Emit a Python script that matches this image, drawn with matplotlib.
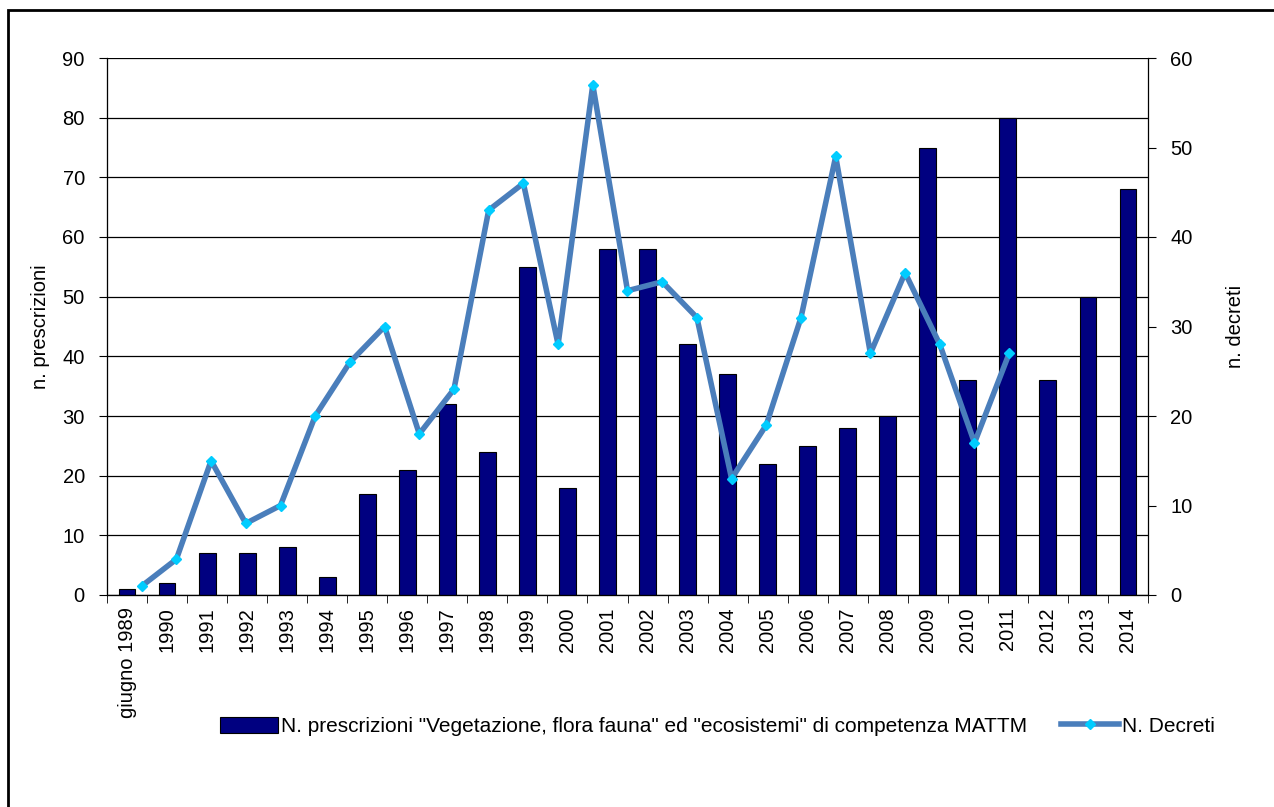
import numpy as np
import matplotlib.pyplot as plt
from matplotlib.patches import Rectangle

plt.rcParams['font.family'] = ['Liberation Sans', 'DejaVu Sans']

# categorie (anni)
anni = ["giugno 1989"] + [str(a) for a in range(1990, 2015)]

# n. prescrizioni "Vegetazione, flora fauna" ed "ecosistemi" (asse sinistro)
prescrizioni = [1, 2, 7, 7, 8, 3, 17, 21, 32, 24, 55, 18, 58, 58, 42, 37,
                22, 25, 28, 30, 75, 36, 80, 36, 50, 68]

# n. decreti (asse destro), fino al 2011
decreti = [1, 4, 15, 8, 10, 20, 26, 30, 18, 23, 43, 46, 28, 57, 34, 35,
           31, 13, 19, 31, 49, 27, 36, 28, 17, 27]

fs = 14.5

fig = plt.figure(figsize=(12.74, 8.07), dpi=100)
ax = fig.add_axes([107/1274, 1-595/807, (1148-107)/1274, (595-58)/807])

x = np.arange(len(anni))
ax.bar(x, prescrizioni, width=0.42, color="#000080", edgecolor="black",
       linewidth=0.8, zorder=3,
       label='N. prescrizioni "Vegetazione, flora fauna" ed "ecosistemi" di competenza MATTM')
ax.set_xlim(-0.5, len(anni) - 0.5)
ax.set_ylim(0, 90)
ax.set_yticks(np.arange(0, 91, 10))
ax.set_xticks(x)
ax.set_xticklabels(anni, rotation=90, fontsize=fs)
ax.set_xticks(np.arange(-0.5, len(anni), 1), minor=True)
ax.tick_params(axis="x", which="major", length=0, pad=9)
ax.tick_params(axis="x", which="minor", length=6, direction="out", color="black")
ax.tick_params(axis="y", labelsize=fs, length=6, direction="out", pad=10)
ax.yaxis.grid(True, color="black", linewidth=0.9, zorder=0)
ax.set_ylabel("n. prescrizioni", fontsize=fs)
ax.yaxis.set_label_coords(-0.055, 0.5)
ax.spines["top"].set_visible(False)
for s in ["left", "right"]:
    ax.spines[s].set_color("#555555")
ax.spines["bottom"].set_color("black")

# asse destro per i decreti
ax2 = ax.twinx()
ax2.set_ylim(0, 60)
ax2.set_yticks(np.arange(0, 61, 10))
ax2.tick_params(axis="y", labelsize=fs, length=6, direction="out", pad=10)
ax2.set_ylabel("n. decreti", fontsize=fs)
ax2.yaxis.set_label_coords(1.075, 0.5)
ax2.spines["top"].set_visible(False)
ax2.spines["right"].set_color("#555555")

ax3 = ax2.twiny()
ax3.set_xlim(0, 30)
ln = ax3.plot(np.arange(1, len(decreti) + 1), decreti, color="#4a7ebb",
              linewidth=4, marker="D", markersize=5, markerfacecolor="#00ccff",
              markeredgecolor="#00ccff", label="N. Decreti", zorder=4)
ax3.xaxis.set_visible(False)
ax3.spines["top"].set_visible(False)

h1, l1 = ax.get_legend_handles_labels()
fig.legend(h1 + ln, l1 + ["N. Decreti"], loc="center", bbox_to_anchor=(0.563, 0.1),
           ncol=2, frameon=False, fontsize=15, handlelength=2.8, handleheight=0.8,
           handletextpad=0.15, columnspacing=1.6)

# cornice esterna
fig.patches.append(Rectangle((8/1274, -0.05), 1.1, 1.05 - 10/807,
                             transform=fig.transFigure, fill=False,
                             edgecolor="black", linewidth=2))

fig.savefig("out.png", dpi=100)
